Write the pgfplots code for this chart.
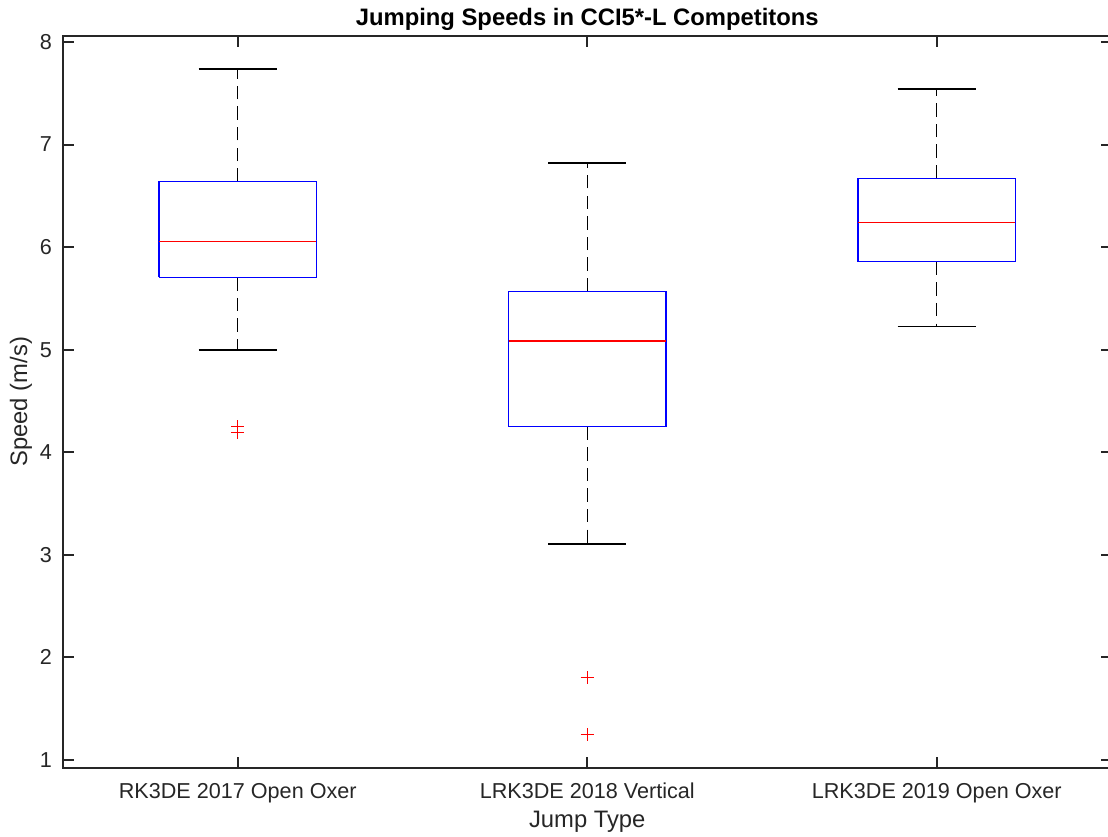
\documentclass[border=0pt]{standalone}
\usepackage{fontspec}
\setmainfont{Liberation Sans}
\usepackage{pgfplots}
\pgfplotsset{compat=1.18}
\definecolor{mgray}{RGB}{38,38,38}
\pgfplotsset{
  bx/.style={draw=blue, line width=0.7pt, mark=none},
  med/.style={draw=red, line width=0.7pt, mark=none},
  whisk/.style={draw=black, line width=0.6pt, dash pattern=on 6.7pt off 3.6pt, mark=none},
  cap/.style={draw=black, line width=0.6pt, mark=none},
  outl/.style={only marks, mark=+, mark size=3.3pt, draw=red, mark options={draw=red, line width=0.7pt, solid}},
}
\begin{document}
\begin{tikzpicture}
\begin{axis}[
  at={(0,0)}, anchor=south west,
  scale only axis, width=524.25pt, height=365.85pt,
  xmin=0.5, xmax=3.5, ymin=0.925, ymax=8.0585,
  xtick={1,2,3},
  xticklabels={RK3DE 2017 Open Oxer, LRK3DE 2018 Vertical, LRK3DE 2019 Open Oxer},
  ytick={1,2,3,4,5,6,7,8},
  minor tick num=0,
  tick align=inside, tick pos=both, major tick length=5.5pt,
  axis line style={draw=mgray, line width=1pt},
  tick style={draw=mgray, line width=1pt},
  tick label style={font=\fontsize{10.8}{13}\selectfont, text=mgray},
  /pgf/number format/assume math mode=true,
  xticklabel style={anchor=base, yshift=-15.15pt},
  yticklabel style={anchor=east, inner sep=0pt, xshift=-5.3pt},
  title={Jumping Speeds in CCI5*-L Competitons},
  title style={at={(axis description cs:0.5,1.01367)}, anchor=base, inner sep=0pt, yshift=-6pt,
    font=\fontsize{11.9}{14}\selectfont\bfseries, text=black},
  xlabel={Jump Type},
  xlabel style={at={(axis description cs:0.5,-0.0824)}, anchor=base, inner sep=0pt,
    font=\fontsize{11.9}{14}\selectfont, text=mgray},
  ylabel={Speed (m/s)},
  ylabel style={at={(axis description cs:-0.0343,0.5)}, anchor=base, inner sep=0pt,
    font=\fontsize{11.9}{14}\selectfont, text=mgray},
]
% --- RK3DE 2017 Open Oxer (position 1)
\addplot[whisk] coordinates {(1,6.638) (1,7.737)};
\addplot[whisk] coordinates {(1,5.706) (1,4.997)};
\addplot[cap] coordinates {(0.888,7.737) (1.112,7.737)};
\addplot[cap] coordinates {(0.888,4.997) (1.112,4.997)};
\addplot[bx] coordinates {(0.775,5.706) (1.225,5.706) (1.225,6.638) (0.775,6.638) (0.775,5.706)};
\addplot[med] coordinates {(0.775,6.053) (1.225,6.053)};
\addplot[outl] coordinates {(1,4.249) (1,4.191)};
% --- LRK3DE 2018 Vertical (position 2)
\addplot[whisk] coordinates {(2,5.569) (2,6.82)};
\addplot[whisk] coordinates {(2,4.25) (2,3.106)};
\addplot[cap] coordinates {(1.888,6.82) (2.112,6.82)};
\addplot[cap] coordinates {(1.888,3.106) (2.112,3.106)};
\addplot[bx] coordinates {(1.775,4.25) (2.225,4.25) (2.225,5.569) (1.775,5.569) (1.775,4.25)};
\addplot[med] coordinates {(1.775,5.085) (2.225,5.085)};
\addplot[outl] coordinates {(2,1.802) (2,1.247)};
% --- LRK3DE 2019 Open Oxer (position 3)
\addplot[whisk] coordinates {(3,6.671) (3,7.542)};
\addplot[whisk] coordinates {(3,5.858) (3,5.228)};
\addplot[cap] coordinates {(2.888,7.542) (3.112,7.542)};
\addplot[cap] coordinates {(2.888,5.228) (3.112,5.228)};
\addplot[bx] coordinates {(2.775,5.858) (3.225,5.858) (3.225,6.671) (2.775,6.671) (2.775,5.858)};
\addplot[med] coordinates {(2.775,6.242) (3.225,6.242)};
\end{axis}
\pgfresetboundingbox
\useasboundingbox (-31.5pt,-34.15pt) rectangle (522.5pt,383.85pt);
\end{tikzpicture}
\end{document}
